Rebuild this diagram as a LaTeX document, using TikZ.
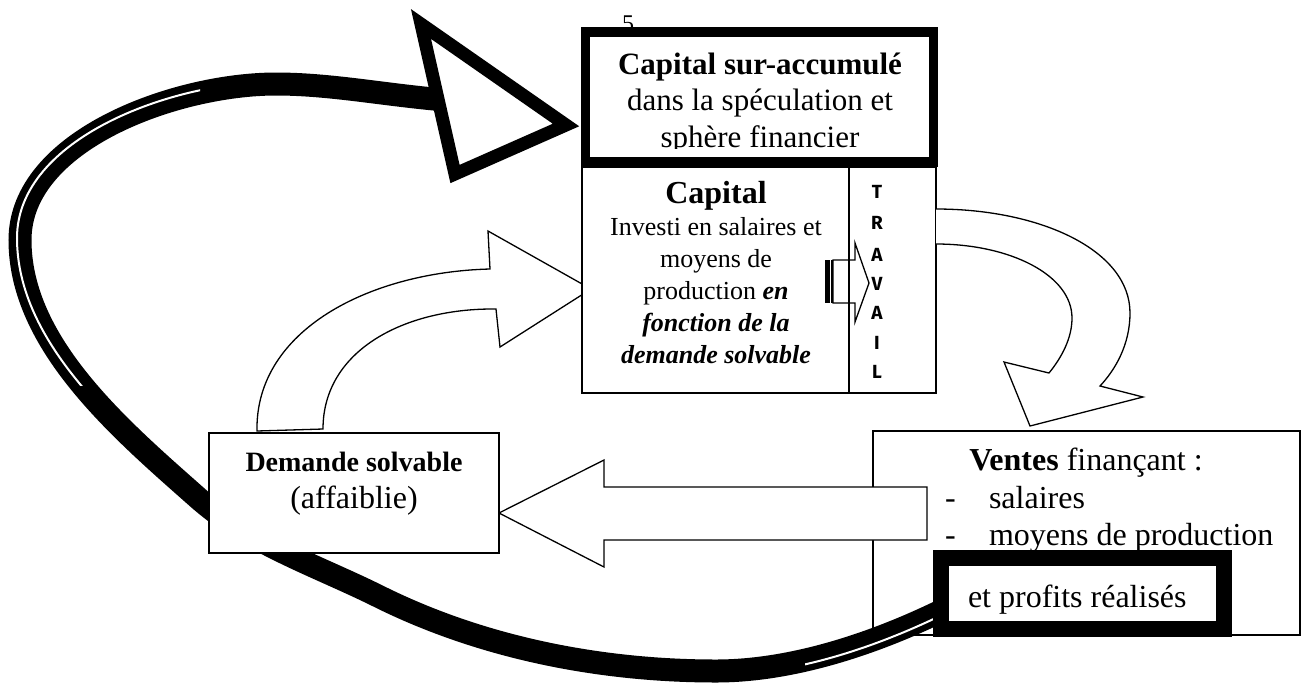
\documentclass[tikz,border=0pt]{standalone}
\usepackage{fontspec}
\setmainfont{Liberation Serif}
\newfontfamily\travfont{Fira Sans}
\begin{document}
\begin{tikzpicture}[x=0.5pt,y=-0.5pt,
  thinline/.style={line width=0.65pt},
  boxstyle/.style={draw, line width=0.65pt, fill=white, inner sep=0pt, outer sep=0pt},
  thickbox/.style={draw, fill=white, inner sep=0pt, outer sep=0pt},
  blockarrow/.style={draw, line width=0.65pt, fill=white, line join=miter},
  txt/.style={anchor=base, inner sep=0pt, outer sep=0pt},
  txtw/.style={anchor=base west, inner sep=0pt, outer sep=0pt},
  band/.style={line width=11.5pt, draw=black},
  gapline/.style={line width=1pt, draw=white},
  trav/.style={inner sep=0pt, font=\travfont\bfseries\fontsize{9.5}{10}\selectfont}
]
\useasboundingbox (0,0) rectangle (1303,682);
\newcommand\mybandpath{(945,609) .. controls (876,643) and (793,671) .. (716,671)
  .. controls (601,671) and (483,648) .. (380,597)
  .. controls (318,566) and (250,544) .. (198,498)
  .. controls (120,429) and (20,344) .. (20,240)
  .. controls (20,140) and (176,84) .. (276,84)
  .. controls (331,84) and (385,95) .. (445,100)}

% Ventes box
\node[boxstyle, minimum width=213.5pt, minimum height=102pt] (ventes) at (1086.5,533) {};

% big left block arrow (Ventes -> Demande)
\draw[blockarrow] (927,487) -- (604,487) -- (604,460) -- (499,513) -- (604,567) -- (604,540) -- (927,540) -- cycle;

% big looping band
\draw[band] \mybandpath;
\begin{scope}
  \clip (0,0) rectangle (200,385);
  \begin{scope}[shift={(-3,-2)}]
    \draw[gapline] \mybandpath;
  \end{scope}
\end{scope}
\begin{scope}
  \clip (805,560) rectangle (945,682);
  \begin{scope}[shift={(1,4)}]
    \draw[gapline] \mybandpath;
  \end{scope}
\end{scope}

% big triangle head
\draw[line width=6.5pt, fill=white, line join=miter, miter limit=10] (421,24) -- (566,125) -- (455,174) -- cycle;

% Demande box
\node[boxstyle, minimum width=145pt, minimum height=60pt] (demande) at (354,493) {};
\node[txt, font=\fontsize{14}{16}\selectfont\bfseries] (d1) at (354,471) {Demande solvable};
\node[txt, font=\fontsize{16}{18}\selectfont] (d2) at (354,508) {(affaiblie)};

% et profits box
\node[thickbox, line width=8pt, minimum width=141.5pt, minimum height=35.5pt] (profits) at (1082.5,593) {};

% Ventes text
\node[txt, font=\fontsize{16}{18}\selectfont] (v1) at (1086,470) {\textbf{Ventes} finançant :};
\node[txtw, font=\fontsize{16}{18}\selectfont] (v2a) at (945,508) {-};
\node[txtw, font=\fontsize{16}{18}\selectfont] (v2b) at (989,508) {salaires};
\node[txtw, font=\fontsize{16}{18}\selectfont] (v3a) at (945,545) {-};
\node[txtw, font=\fontsize{16}{18}\selectfont] (v3b) at (989,545) {moyens de production};
\node[txtw, font=\fontsize{16}{18}\selectfont] (p1) at (968,607) {et profits réalisés};

% curved arrow Demande -> Capital
\draw[blockarrow] (257,431) .. controls (255,330) and (370,272) .. (490,269) -- (488,231) -- (591,289) -- (500,347) -- (496,309) .. controls (405,308) and (323,350) .. (323,429) -- cycle;

% page number
\node[txt, font=\fontsize{12}{14}\selectfont] (five) at (628,31) {5};

% Capital box and TRAVAIL column
\node[boxstyle, minimum width=133.5pt, minimum height=113pt] (capital) at (715.5,280) {};
\node[boxstyle, minimum width=43.5pt, minimum height=113pt] (travail) at (892.5,280) {};

% top thick box
\node[thickbox, line width=4.75pt, minimum width=174pt, minimum height=65pt] (surcap) at (759.5,97) {};
\begin{scope}
  \clip (590,37) rectangle (929,148);
  \node[txt, font=\fontsize{15.5}{18}\selectfont\bfseries] (s1) at (760,74) {Capital sur-accumulé};
  \node[txt, font=\fontsize{15.5}{18}\selectfont] (s2) at (760,110) {dans la spéculation et};
  \node[txt, font=\fontsize{15.5}{18}\selectfont] (s3) at (760,147) {sphère financier};
\end{scope}

% Capital text
\node[txt, font=\fontsize{16}{19}\selectfont\bfseries] (c1) at (716,203) {Capital};
\node[txt, font=\fontsize{13}{16}\selectfont] (c2) at (716,235) {Investi en salaires et};
\node[txt, font=\fontsize{13}{16}\selectfont] (c3) at (716,267) {moyens de};
\node[txt, font=\fontsize{13}{16}\selectfont] (c4) at (716,299) {production \textbf{\textit{en}}};
\node[txt, font=\fontsize{13}{16}\selectfont\bfseries\itshape] (c5) at (716,331) {fonction de la};
\node[txt, font=\fontsize{13}{16}\selectfont\bfseries\itshape] (c6) at (716,363) {demande solvable};

% TRAVAIL letters
\node[trav] (tr1) at (877,192) {T};
\node[trav] (tr2) at (877,223) {R};
\node[trav] (tr3) at (877,255) {A};
\node[trav] (tr4) at (877,284) {V};
\node[trav] (tr5) at (877,313) {A};
\node[trav] (tr6) at (877,343) {I};
\node[trav] (tr7) at (877,372) {L};

% small striped arrow into TRAVAIL
\fill (825,260) rectangle (830,303);
\draw[thinline] (832,260) -- (832,303);
\draw[thinline, line join=miter] (833,260) -- (855,260) -- (855,243) -- (869,283) -- (855,322) -- (855,303) -- (833,303) -- cycle;

% curved arrow Capital -> Ventes
\draw[blockarrow] (936,209) .. controls (1040,209) and (1130,250) .. (1130,313) .. controls (1130,345) and (1115,370) .. (1100,386) -- (1143,397) -- (1030,426) -- (1004,362) -- (1049,373) .. controls (1062,357) and (1072,338) .. (1072,318) .. controls (1072,275) and (1010,244) .. (936,244);
\end{tikzpicture}
\end{document}
